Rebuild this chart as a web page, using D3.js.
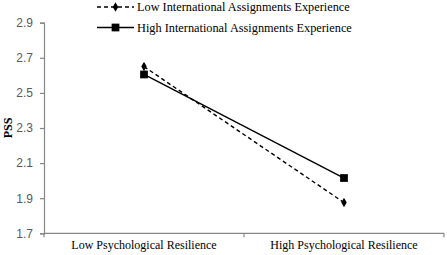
<!DOCTYPE html>
<html>
<head>
<meta charset="utf-8">
<script src="https://cdn.jsdelivr.net/npm/d3@7"></script>
<style>
  body { margin: 0; background: #fff; }
</style>
</head>
<body>
<div id="chart"></div>
<script>
// Data
const categories = ["Low Psychological Resilience", "High Psychological Resilience"];
const seriesNames = ["Low International Assignments Experience", "High International Assignments Experience"];
const lowIAE = [2.65, 1.875];
const highIAE = [2.605, 2.015];
const yTicks = [1.7, 1.9, 2.1, 2.3, 2.5, 2.7, 2.9];

const width = 447, height = 255;
const mLeft = 44, mRight = 444, mTop = 22.7, mBottom = 233.3;

const svg = d3.select("#chart")
  .append("svg").attr("width", width).attr("height", height);

const x = d3.scaleBand()
  .domain(categories)
  .range([mLeft, mRight]);

const y = d3.scaleLinear()
  .domain([1.7, 2.9])
  .range([mBottom, mTop]);

// ==== Axes ====
const axisColor = "#868686";

const yAxis = svg.append("g")
  .attr("transform", `translate(${mLeft},0)`)
  .call(d3.axisLeft(y).tickValues(yTicks).tickFormat(d3.format(".1f")).tickSize(4).tickPadding(7));
yAxis.select(".domain").attr("stroke", axisColor).attr("stroke-width", 1.2);
yAxis.selectAll(".tick line").attr("stroke", axisColor).attr("stroke-width", 1.2);
yAxis.selectAll(".tick text")
  .attr("font-family", "Liberation Sans, Arial, sans-serif")
  .attr("font-size", 12)
  .attr("fill", "#595959");

const xAxisG = svg.append("g")
  .attr("transform", `translate(0,${mBottom})`);
xAxisG.append("line")
  .attr("x1", mLeft).attr("x2", mRight)
  .attr("stroke", axisColor).attr("stroke-width", 1.2);
xAxisG.selectAll("line.tk")
  .data([mLeft, x(categories[1]), mRight])
  .join("line")
  .attr("class", "tk")
  .attr("x1", d => d).attr("x2", d => d)
  .attr("y1", 0).attr("y2", 4)
  .attr("stroke", axisColor).attr("stroke-width", 1.2);
xAxisG.selectAll("text")
  .data(categories)
  .join("text")
  .attr("x", d => x(d) + x.bandwidth() / 2)
  .attr("y", 15.5)
  .attr("text-anchor", "middle")
  .attr("font-family", "Liberation Serif, Times New Roman, serif")
  .attr("font-size", 12)
  .attr("fill", "#000")
  .text(d => d);

svg.append("text")
  .attr("transform", `translate(12,128) rotate(-90)`)
  .attr("text-anchor", "middle")
  .attr("font-family", "Liberation Serif, Times New Roman, serif")
  .attr("font-weight", "bold")
  .attr("font-size", 12)
  .text("PSS");

// ==== Lines ====
const cx = d => x(d) + x.bandwidth() / 2;
const line = d3.line().x(d => cx(d.cat)).y(d => y(d.v));

const series = [
  { name: seriesNames[0], values: lowIAE, dash: "4,3", symbol: d3.symbolDiamond, size: 26 },
  { name: seriesNames[1], values: highIAE, dash: null, symbol: d3.symbolSquare, size: 60 }
];

series.forEach(s => {
  const pts = categories.map((c, i) => ({ cat: c, v: s.values[i] }));
  svg.append("path")
    .datum(pts)
    .attr("d", line)
    .attr("fill", "none")
    .attr("stroke", "#000")
    .attr("stroke-width", 1.4)
    .attr("stroke-dasharray", s.dash);
  svg.selectAll(null)
    .data(pts)
    .join("path")
    .attr("transform", d => `translate(${cx(d.cat)},${y(d.v)})`)
    .attr("d", d3.symbol().type(s.symbol).size(s.size))
    .attr("fill", "#000");
});

// ==== Legend ====
const legend = svg.append("g");
series.forEach((s, i) => {
  const ly = 7 + i * 20.5;
  legend.append("line")
    .attr("x1", 97).attr("x2", 134)
    .attr("y1", ly).attr("y2", ly)
    .attr("stroke", "#000")
    .attr("stroke-width", 1.4)
    .attr("stroke-dasharray", s.dash);
  legend.append("path")
    .attr("transform", `translate(115.5,${ly})`)
    .attr("d", d3.symbol().type(s.symbol).size(s.size))
    .attr("fill", "#000");
  legend.append("text")
    .attr("x", 137)
    .attr("y", ly + 4)
    .attr("font-family", "Liberation Serif, Times New Roman, serif")
    .attr("font-size", 12.3)
    .text(s.name);
});
</script>
</body>
</html>
